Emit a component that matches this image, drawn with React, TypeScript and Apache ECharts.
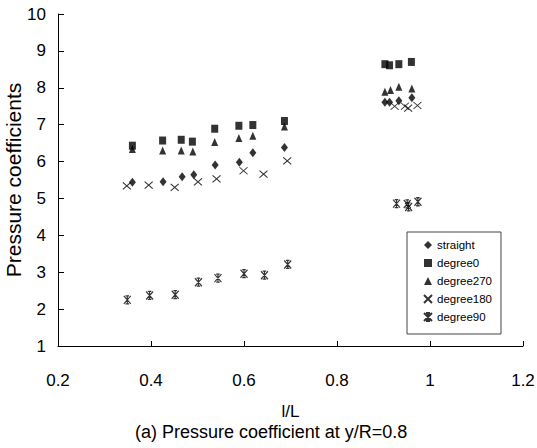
import React, { useEffect, useRef } from "react";
import * as echarts from "echarts";

// l/L positions and pressure coefficients
const xStraight = [0.36, 0.426, 0.467, 0.492, 0.538, 0.59, 0.619, 0.687, 0.903, 0.913, 0.933, 0.961];
const yStraight = [5.44, 5.45, 5.59, 5.64, 5.91, 5.98, 6.24, 6.38, 7.61, 7.61, 7.65, 7.73];

const xDeg0 = [0.36, 0.425, 0.465, 0.489, 0.537, 0.589, 0.619, 0.687, 0.903, 0.913, 0.933, 0.96];
const yDeg0 = [6.43, 6.57, 6.59, 6.54, 6.89, 6.97, 6.99, 7.1, 8.64, 8.61, 8.64, 8.7];

const xDeg270 = [0.36, 0.425, 0.465, 0.49, 0.537, 0.589, 0.619, 0.687, 0.903, 0.915, 0.933, 0.961];
const yDeg270 = [6.34, 6.3, 6.3, 6.27, 6.53, 6.64, 6.7, 6.95, 7.89, 7.94, 8.03, 7.98];

const xDeg180 = [0.348, 0.395, 0.451, 0.501, 0.541, 0.599, 0.642, 0.693, 0.924, 0.946, 0.953, 0.973];
const yDeg180 = [5.34, 5.36, 5.3, 5.45, 5.53, 5.75, 5.66, 6.02, 7.5, 7.5, 7.45, 7.52];

const xDeg90 = [0.349, 0.397, 0.452, 0.502, 0.544, 0.6, 0.644, 0.694, 0.928, 0.951, 0.954, 0.974];
const yDeg90 = [2.25, 2.37, 2.39, 2.73, 2.84, 2.96, 2.92, 3.21, 4.86, 4.85, 4.77, 4.91];

const seriesNames = ["straight", "degree0", "degree270", "degree180", "degree90"];
const xTitle = "l/L";
const yTitle = "Pressure coefficients";
const caption = "(a) Pressure coefficient at y/R=0.8";

const zip = (xs: number[], ys: number[]) => xs.map((x, i) => [x, ys[i]]);

const FONT = "'Liberation Sans', Arial, sans-serif";
const X_SYM = "path://M0,0L10,10M10,0L0,10";
const AST_SYM = "path://M0,0L10,10M10,0L0,10M5,0L5,10M2.5,0L7.5,0M2.5,10L7.5,10";

export default function App() {
  const ref = useRef<HTMLDivElement>(null);
  useEffect(() => {
    document.body.style.margin = "0";
    const chart = echarts.init(ref.current!, null, { renderer: "svg" });
    const solid = { color: "#000" };
    const stroked = { color: "rgba(0,0,0,0)", borderColor: "#000", borderWidth: 1 };
    chart.setOption({
      animation: false,
      backgroundColor: "#fff",
      grid: { left: 58, top: 14, right: 14, bottom: 102, containLabel: false, outerBoundsMode: "none" },
      xAxis: {
        type: "value",
        min: 0.2,
        max: 1.2,
        interval: 0.2,
        name: xTitle,
        nameLocation: "middle",
        nameGap: 57,
        nameMoveOverlap: false,
        nameTextStyle: { color: "#000", fontSize: 17, fontFamily: FONT },
        axisLine: { show: true, lineStyle: { color: "#000", width: 1 } },
        axisTick: { show: true, inside: true, length: 5, lineStyle: { color: "#000" } },
        axisLabel: { color: "#000", fontSize: 17, fontFamily: FONT, margin: 26 },
        splitLine: { show: false },
      },
      yAxis: {
        type: "value",
        min: 1,
        max: 10,
        interval: 1,
        name: yTitle,
        nameLocation: "middle",
        nameGap: 34,
        nameMoveOverlap: false,
        nameTextStyle: { color: "#000", fontSize: 21, fontFamily: FONT },
        axisLine: { show: true, lineStyle: { color: "#000", width: 1 } },
        axisTick: { show: true, inside: true, length: 6, lineStyle: { color: "#000" } },
        axisLabel: { color: "#000", fontSize: 17, fontFamily: FONT, margin: 12 },
        splitLine: { show: false },
      },
      legend: {
        orient: "vertical",
        left: 407,
        top: 232,
        padding: [6, 9, 10, 16],
        itemGap: 4,
        itemWidth: 8,
        itemHeight: 8,
        borderColor: "#444",
        borderWidth: 1,
        borderRadius: 0,
        backgroundColor: "#fff",
        textStyle: {
          color: "#000",
          fontSize: 11.5,
          lineHeight: 14,
          fontFamily: FONT,
        },
        data: seriesNames,
      },
      graphic: [
        {
          type: "text",
          left: 135,
          top: 423,
          style: { text: caption, fill: "#000", fontSize: 18, fontFamily: FONT },
        },
      ],
      series: [
        { name: seriesNames[0], type: "scatter", symbol: "diamond", symbolSize: [7, 9], itemStyle: solid, data: zip(xStraight, yStraight) },
        { name: seriesNames[1], type: "scatter", symbol: "rect", symbolSize: [7, 8], itemStyle: solid, data: zip(xDeg0, yDeg0) },
        { name: seriesNames[2], type: "scatter", symbol: "triangle", symbolSize: [7, 8], itemStyle: solid, data: zip(xDeg270, yDeg270) },
        { name: seriesNames[3], type: "scatter", symbol: X_SYM, symbolSize: [8, 7], itemStyle: stroked, data: zip(xDeg180, yDeg180) },
        { name: seriesNames[4], type: "scatter", symbol: AST_SYM, symbolSize: [7, 8], itemStyle: { ...stroked, borderWidth: 1.2 }, data: zip(xDeg90, yDeg90) },
      ],
    });
    return () => chart.dispose();
  }, []);
  return <div ref={ref} style={{ width: 537, height: 448 }} />;
}
